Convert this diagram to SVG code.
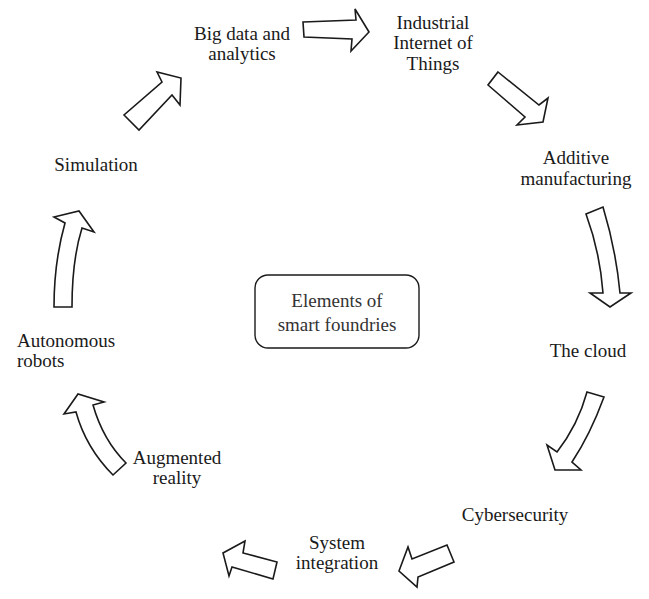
<svg xmlns="http://www.w3.org/2000/svg" width="649" height="599" viewBox="0 0 649 599">
<style>
.t{font-family:"Liberation Serif","Times New Roman",serif;font-size:19px;fill:#1a1a1a;text-anchor:middle}
.l{text-anchor:start}
.c{fill:#333}
.a{fill:#fff;stroke:#1a1a1a;stroke-width:1.6;stroke-linejoin:miter}
</style>
<rect width="649" height="599" fill="#fff"/>
<g id="connectors">
<path class="a" d="M303,22 L356,20 L355,9 L369,32 L351,51 L352,39 L304,37 Z"/>
<path class="a" d="M498,72 L539,105 L548,98 L543,122 L517,125 L525,117 L488,85 Z"/>
<path class="a" d="M586,214 L603,207 Q616,250 620,293 L631,293 L610,307 L590,293 L603,293 Q600,252 586,214 Z"/>
<path class="a" d="M587,392 L604,397 Q590,435 572,462 L581,470 L555,470 L547,445 L557,452 Q578,425 587,392 Z"/>
<path class="a" d="M447,545 L454,562 L418,577 L417,587 L399,571 L408,547 L412,559 Z"/>
<path class="a" d="M277,562 L273,579 L232,567 L229,576 L223,553 L245,541 L243,553 Z"/>
<path class="a" d="M113,475 L126,463 Q103,440 93,405 L104,402 L78,394 L64,414 L76,412 Q86,448 113,475 Z"/>
<path class="a" d="M54,307 L72,307 Q72,260 82,228 L94,232 L79,211 L54,217 L65,223 Q54,262 54,307 Z"/>
<path class="a" d="M124,115 L139,130 L172,95 L180,105 L181,78 L157,72 L162,82 Z"/>
</g>
<g id="center">
<rect x="255" y="275" width="164" height="73" rx="13" fill="#fff" stroke="#1a1a1a" stroke-width="1.4"/>
<text class="t c" x="337" y="307">Elements of</text>
<text class="t c" x="337" y="331">smart foundries</text>
</g>
<g id="bigdata"><text class="t" x="242" y="40">Big data and</text><text class="t" x="242" y="60">analytics</text></g>
<g id="iiot"><text class="t" x="433" y="29">Industrial</text><text class="t" x="433" y="49">Internet of</text><text class="t" x="433" y="70">Things</text></g>
<g id="additive"><text class="t" x="576" y="164">Additive</text><text class="t" x="576" y="185">manufacturing</text></g>
<g id="cloud"><text class="t" x="588" y="357">The cloud</text></g>
<g id="cyber"><text class="t" x="515" y="521">Cybersecurity</text></g>
<g id="sysint"><text class="t" x="337" y="549">System</text><text class="t" x="337" y="569">integration</text></g>
<g id="ar"><text class="t" x="177" y="464">Augmented</text><text class="t" x="177" y="484">reality</text></g>
<g id="robots"><text class="t l" x="17" y="347">Autonomous</text><text class="t l" x="17" y="367">robots</text></g>
<g id="sim"><text class="t" x="96" y="171">Simulation</text></g>
</svg>
